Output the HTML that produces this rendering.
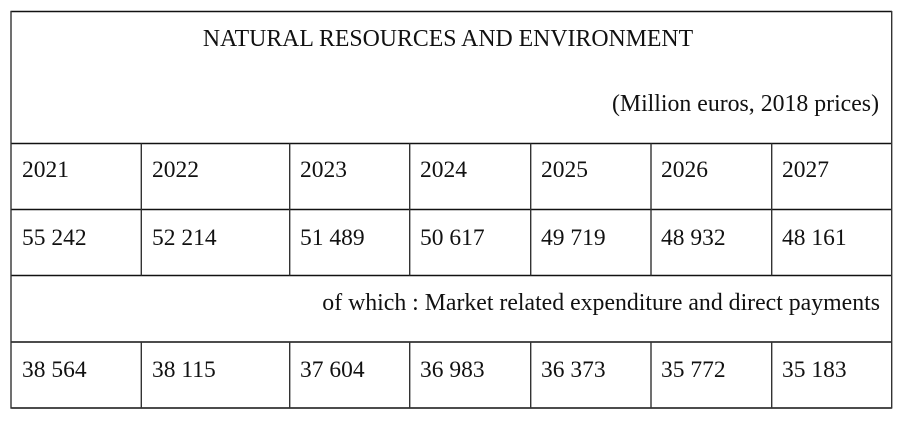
<!DOCTYPE html>
<html>
<head>
<meta charset="utf-8">
<style>
html,body{margin:0;padding:0;background:#fff;}
body{width:912px;height:443px;overflow:hidden;}
svg{display:block;}
text{font-family:"Liberation Serif","Times New Roman",serif;font-size:23.5px;fill:#111;}
text.w{font-size:23.8px;}
</style>
</head>
<body>
<svg width="912" height="443" viewBox="0 0 912 443" xmlns="http://www.w3.org/2000/svg">
  <rect x="0" y="0" width="912" height="443" fill="#fff"/>
  <g stroke="#111" stroke-width="1.4">
    <line x1="10.5" y1="11.5" x2="892" y2="11.5"/>
    <line x1="10.5" y1="143.5" x2="892" y2="143.5"/>
    <line x1="10.5" y1="209.5" x2="892" y2="209.5"/>
    <line x1="10.5" y1="275.5" x2="892" y2="275.5"/>
    <line x1="10.5" y1="342" x2="892" y2="342"/>
    <line x1="10.5" y1="408" x2="892" y2="408"/>
  </g>
  <g stroke="#333" stroke-width="1.4">
    <line x1="11" y1="11" x2="11" y2="408.5"/>
    <line x1="891.7" y1="11" x2="891.7" y2="408.5"/>
    <line x1="141.3" y1="143.5" x2="141.3" y2="275.5"/>
    <line x1="289.7" y1="143.5" x2="289.7" y2="275.5"/>
    <line x1="409.7" y1="143.5" x2="409.7" y2="275.5"/>
    <line x1="530.7" y1="143.5" x2="530.7" y2="275.5"/>
    <line x1="651" y1="143.5" x2="651" y2="275.5"/>
    <line x1="771.7" y1="143.5" x2="771.7" y2="275.5"/>
    <line x1="141.3" y1="342" x2="141.3" y2="408"/>
    <line x1="289.7" y1="342" x2="289.7" y2="408"/>
    <line x1="409.7" y1="342" x2="409.7" y2="408"/>
    <line x1="530.7" y1="342" x2="530.7" y2="408"/>
    <line x1="651" y1="342" x2="651" y2="408"/>
    <line x1="771.7" y1="342" x2="771.7" y2="408"/>
  </g>

  <text class="w" x="448" y="46" text-anchor="middle">NATURAL RESOURCES AND ENVIRONMENT</text>
  <text class="w" x="879" y="111" text-anchor="end">(Million euros, 2018 prices)</text>

  <g>
    <text x="22" y="177">2021</text>
    <text x="152" y="177">2022</text>
    <text x="300" y="177">2023</text>
    <text x="420" y="177">2024</text>
    <text x="541" y="177">2025</text>
    <text x="661" y="177">2026</text>
    <text x="782" y="177">2027</text>
  </g>
  <g>
    <text x="22" y="245">55 242</text>
    <text x="152" y="245">52 214</text>
    <text x="300" y="245">51 489</text>
    <text x="420" y="245">50 617</text>
    <text x="541" y="245">49 719</text>
    <text x="661" y="245">48 932</text>
    <text x="782" y="245">48 161</text>
  </g>

  <text class="w" x="880" y="310" text-anchor="end">of which : Market related expenditure and direct payments</text>

  <g>
    <text x="22" y="377">38 564</text>
    <text x="152" y="377">38 115</text>
    <text x="300" y="377">37 604</text>
    <text x="420" y="377">36 983</text>
    <text x="541" y="377">36 373</text>
    <text x="661" y="377">35 772</text>
    <text x="782" y="377">35 183</text>
  </g>
</svg>
</body>
</html>
